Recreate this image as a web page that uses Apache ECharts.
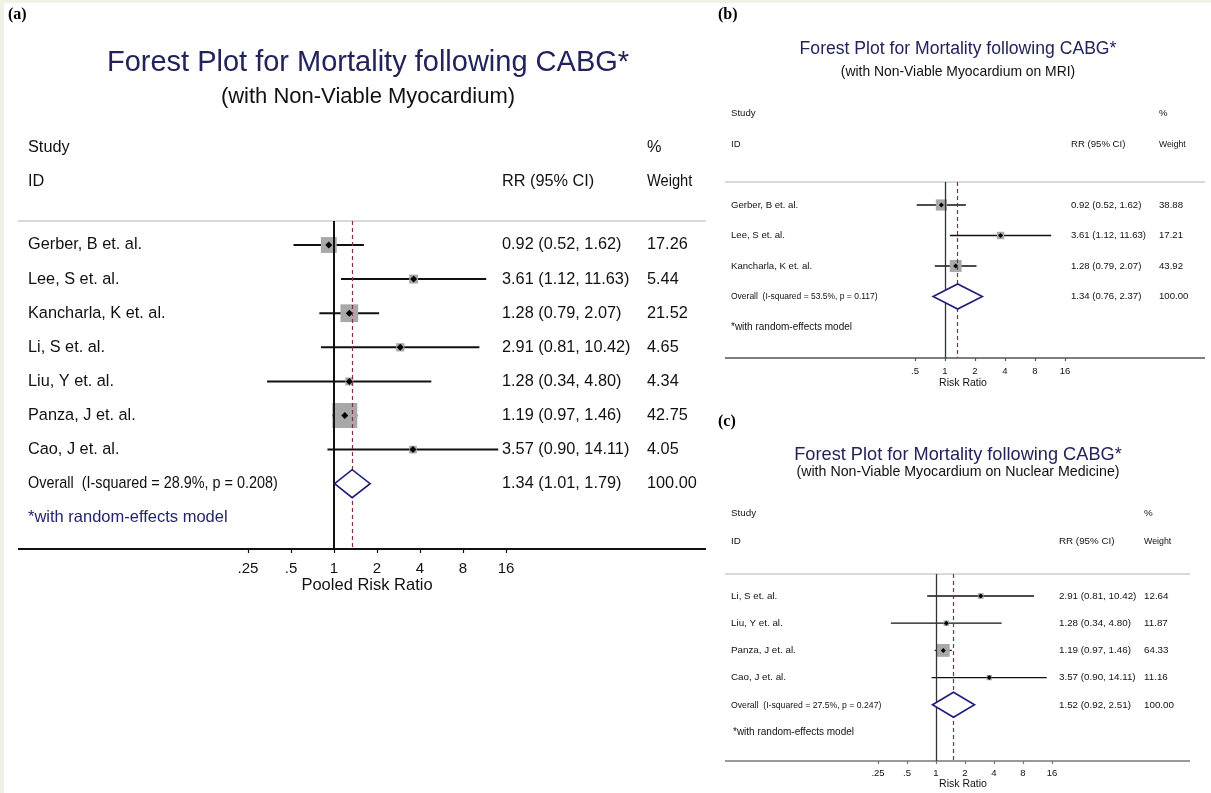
<!DOCTYPE html>
<html><head><meta charset="utf-8">
<script src="https://cdn.jsdelivr.net/npm/echarts@6/dist/echarts.min.js"></script>
<style>html,body{margin:0;padding:0;background:#fff;} #c{width:1211px;height:793px;}</style>
</head><body><div id="c"></div>
<script>
// ---------- DATA ----------
// Panel (a): all studies
const studiesA = ['Gerber, B et. al.', 'Lee, S et. al.', 'Kancharla, K et. al.', 'Li, S et. al.', 'Liu, Y et. al.', 'Panza, J et. al.', 'Cao, J et. al.'];
const rrA = [0.92, 3.61, 1.28, 2.91, 1.28, 1.19, 3.57];
const loA = [0.52, 1.12, 0.79, 0.81, 0.34, 0.97, 0.90];
const hiA = [1.62, 11.63, 2.07, 10.42, 4.80, 1.46, 14.11];
const weightA = [17.26, 5.44, 21.52, 4.65, 4.34, 42.75, 4.05];
const overallA = [1.34, 1.01, 1.79];
const overallLabelA = 'Overall  (I-squared = 28.9%, p = 0.208)';
const ticksA = [0.25, 0.5, 1, 2, 4, 8, 16];

// Panel (b): MRI
const studiesB = ['Gerber, B et. al.', 'Lee, S et. al.', 'Kancharla, K et. al.'];
const rrB = [0.92, 3.61, 1.28];
const loB = [0.52, 1.12, 0.79];
const hiB = [1.62, 11.63, 2.07];
const weightB = [38.88, 17.21, 43.92];
const overallB = [1.34, 0.76, 2.37];
const overallLabelB = 'Overall  (I-squared = 53.5%, p = 0.117)';
const ticksB = [0.5, 1, 2, 4, 8, 16];

// Panel (c): Nuclear Medicine
const studiesC = ['Li, S et. al.', 'Liu, Y et. al.', 'Panza, J et. al.', 'Cao, J et. al.'];
const rrC = [2.91, 1.28, 1.19, 3.57];
const loC = [0.81, 0.34, 0.97, 0.90];
const hiC = [10.42, 4.80, 1.46, 14.11];
const weightC = [12.64, 11.87, 64.33, 11.16];
const overallC = [1.52, 0.92, 2.51];
const overallLabelC = 'Overall  (I-squared = 27.5%, p = 0.247)';
const ticksC = [0.25, 0.5, 1, 2, 4, 8, 16];

const titleMain = 'Forest Plot for Mortality following CABG*';
const footnote = '*with random-effects model';

// ---------- LAYOUT ----------
const FONT = '"Liberation Sans", Arial, Helvetica, sans-serif';
const SERIF = '"Liberation Serif", "DejaVu Serif", serif';

const panels = [
  { tag:'(a)', sub:'(with Non-Viable Myocardium)', names:studiesA, rr:rrA, lo:loA, hi:hiA, w:weightA, overall:overallA, overallLabel:overallLabelA, ticks:ticksA, axisName:'Pooled Risk Ratio',
    L:{ oneX:334, dbl:43, lineL:18, lineR:706, top:221, bottom:549, row0:245, step:34.1,
        tagX:8, tagY:15, tagSize:16, titleX:368, titleY:63, titleSize:29, subY:97, subSize:22,
        colName:28, colCI:502, colW:647, hdr1:148, hdr2:182, font:16.3, footSize:16.5, footColor:'#24246e', footX:28,
        boxK:3.82, ptSize:7, diaH:14, ciW:2, nullW:2, nullColor:'#111', axisColor:'#111', axisW:1.8,
        tickFont:15, tickMargin:12, tickLen:4, axNameX:367, axNameY:585, axNameSize:16.5 } },
  { tag:'(b)', sub:'(with Non-Viable Myocardium on MRI)', names:studiesB, rr:rrB, lo:loB, hi:hiB, w:weightB, overall:overallB, overallLabel:overallLabelB, ticks:ticksB, axisName:'Risk Ratio',
    L:{ oneX:945, dbl:30, lineL:725, lineR:1205, top:182, bottom:358, row0:205, step:30.5,
        tagX:718, tagY:15, tagSize:16, titleX:958, titleY:49, titleSize:17.6, subY:72, subSize:13.9,
        colName:731, colCI:1071, colW:1159, hdr1:113, hdr2:144, font:9.6, footSize:10, footColor:'#111', footX:731,
        boxK:1.8, ptSize:5, diaH:12.5, ciW:1.3, nullW:1.3, nullColor:'#333', axisColor:'#555', axisW:1.5,
        tickFont:9.5, tickMargin:8, tickLen:3, axNameX:963, axNameY:383, axNameSize:10.5 } },
  { tag:'(c)', sub:'(with Non-Viable Myocardium on Nuclear Medicine)', names:studiesC, rr:rrC, lo:loC, hi:hiC, w:weightC, overall:overallC, overallLabel:overallLabelC, ticks:ticksC, axisName:'Risk Ratio',
    L:{ oneX:936, dbl:29, lineL:725, lineR:1190, top:574, bottom:761, row0:596, step:27.2,
        tagX:718, tagY:422, tagSize:16, titleX:958, titleY:455, titleSize:18.2, subY:472, subSize:14.2,
        colName:731, colCI:1059, colW:1144, hdr1:513, hdr2:541, font:9.8, footSize:10, footColor:'#111', footX:733,
        boxK:1.6, ptSize:5, diaH:12.5, ciW:1.3, nullW:1.3, nullColor:'#333', axisColor:'#777', axisW:1.5,
        tickFont:9.5, tickMargin:7, tickLen:3, axNameX:963, axNameY:784, axNameSize:10.5 } }
];
const overallScaleX = 0.885;

const fmtTick = v => v < 1 ? String(Math.round(v * 100) / 100).replace(/^0/, '') : String(Math.round(v));
const fmtCI = (r, l, h) => r.toFixed(2) + ' (' + l.toFixed(2) + ', ' + h.toFixed(2) + ')';

const chart = echarts.init(document.getElementById('c'), null, { renderer: 'canvas' });

const grids = [], xAxes = [], yAxes = [], series = [];
panels.forEach((P, p) => {
  const L = P.L;
  const tMin = P.ticks[0], tMax = P.ticks[P.ticks.length - 1];
  const gLeft = L.oneX + Math.log2(tMin) * L.dbl;
  const gRight = L.oneX + Math.log2(tMax) * L.dbl;
  grids.push({ left: gLeft, width: gRight - gLeft, top: L.top, height: L.bottom - L.top, containLabel: false });
  xAxes.push({
    gridIndex: p, type: 'log', logBase: 2, min: tMin, max: tMax, position: 'bottom',
    axisLine: { show: false, onZero: false },
    axisTick: { show: true, length: L.tickLen, lineStyle: { color: L.axisColor, width: 1.2 } },
    axisLabel: { show: true, formatter: fmtTick, fontFamily: FONT, fontSize: L.tickFont, color: '#111', margin: L.tickMargin, showMinLabel: true, showMaxLabel: true },
    splitLine: { show: false }, minorTick: { show: false }
  });
  yAxes.push({
    gridIndex: p, type: 'value', inverse: true,
    min: (L.top - L.row0) / L.step, max: (L.bottom - L.row0) / L.step,
    show: false, splitLine: { show: false }, axisLine: { onZero: false }
  });
  const n = P.names.length;
  // CI lines
  series.push({
    type: 'custom', xAxisIndex: p, yAxisIndex: p, z: 2, silent: true,
    data: P.names.map((_, i) => [P.lo[i], P.hi[i], i]),
    encode: { x: [0, 1], y: 2 },
    renderItem: (params, api) => {
      const a = api.coord([api.value(0), api.value(2)]);
      const b = api.coord([api.value(1), api.value(2)]);
      return { type: 'line', shape: { x1: a[0], y1: a[1], x2: b[0], y2: b[1] }, style: { stroke: '#111', lineWidth: L.ciW } };
    }
  });
  // weight boxes
  series.push({
    type: 'scatter', xAxisIndex: p, yAxisIndex: p, z: 3, silent: true,
    symbol: 'rect', symbolSize: v => L.boxK * Math.sqrt(v[2]),
    itemStyle: { color: '#a8a8a8', opacity: 1 },
    data: P.names.map((_, i) => [P.rr[i], i, P.w[i]])
  });
  // point estimates + reference lines
  series.push({
    type: 'scatter', xAxisIndex: p, yAxisIndex: p, z: 4, silent: true,
    symbol: 'diamond', symbolSize: L.ptSize,
    itemStyle: { color: '#000', opacity: 1 },
    data: P.names.map((_, i) => [P.rr[i], i]),
    markLine: {
      silent: true, symbol: ['none', 'none'], label: { show: false }, animation: false,
      data: [
        { xAxis: 1, lineStyle: { color: L.nullColor, width: L.nullW, type: 'solid' } },
        { xAxis: P.overall[0], lineStyle: { color: '#8b2b3b', width: 1.2, type: [4, 3] } }
      ]
    }
  });
  // overall diamond
  series.push({
    type: 'custom', xAxisIndex: p, yAxisIndex: p, z: 5, silent: true,
    data: [[P.overall[0], P.overall[1], P.overall[2], n]],
    encode: { x: [0, 1, 2], y: 3 },
    renderItem: (params, api) => {
      const c = api.coord([api.value(0), api.value(3)]);
      const l = api.coord([api.value(1), api.value(3)]);
      const r = api.coord([api.value(2), api.value(3)]);
      return { type: 'polygon', shape: { points: [[l[0], c[1]], [c[0], c[1] - L.diaH], [r[0], c[1]], [c[0], c[1] + L.diaH]] },
        style: { fill: '#fff', stroke: '#1d1d7a', lineWidth: 1.6 } };
    }
  });
});

chart.setOption({
  backgroundColor: '#ffffff',
  animation: false,
  grid: grids, xAxis: xAxes, yAxis: yAxes, series: series
});

// ---------- TEXT & DECORATION ----------
const g = [];
g.push({ type: 'rect', shape: { x: 0, y: 0, width: 1211, height: 3 }, style: { fill: '#f1f1e6' }, silent: true });
g.push({ type: 'rect', shape: { x: 0, y: 0, width: 4, height: 793 }, style: { fill: '#f1f1e6' }, silent: true });
const txt = (text, x, y, size, opts = {}) => g.push({
  type: 'text', x: x, y: y, silent: true, scaleX: opts.scaleX || 1,
  style: { text: text, font: (opts.weight || 'normal') + ' ' + size + 'px ' + (opts.family || FONT), fill: opts.color || '#111',
    align: opts.align || 'left', verticalAlign: 'middle' }
});
panels.forEach((P, p) => {
  const L = P.L;
  const rowY = i => chart.convertToPixel({ xAxisIndex: p, yAxisIndex: p }, [1, i])[1];
  txt(P.tag, L.tagX, L.tagY, L.tagSize, { family: SERIF, weight: 'bold', color: '#000' });
  txt(titleMain, L.titleX, L.titleY, L.titleSize, { align: 'center', color: '#23235c' });
  txt(P.sub, L.titleX, L.subY, L.subSize, { align: 'center', color: '#111' });
  txt('Study', L.colName, L.hdr1, L.font);
  txt('%', L.colW, L.hdr1, L.font);
  txt('ID', L.colName, L.hdr2, L.font);
  txt('RR (95% CI)', L.colCI, L.hdr2, L.font);
  txt('Weight', L.colW, L.hdr2, L.font, { scaleX: 0.9 });
  // separator and axis lines across the panel
  g.push({ type: 'line', silent: true, shape: { x1: L.lineL, y1: L.top, x2: L.lineR, y2: L.top }, style: { stroke: '#cccccc', lineWidth: 1.5 } });
  g.push({ type: 'line', silent: true, shape: { x1: L.lineL, y1: L.bottom, x2: L.lineR, y2: L.bottom }, style: { stroke: L.axisColor, lineWidth: L.axisW } });
  P.names.forEach((nm, i) => {
    const y = rowY(i);
    txt(nm, L.colName, y, L.font);
    txt(fmtCI(P.rr[i], P.lo[i], P.hi[i]), L.colCI, y, L.font);
    txt(P.w[i].toFixed(2), L.colW, y, L.font);
  });
  const n = P.names.length;
  const yo = rowY(n);
  txt(P.overallLabel, L.colName, yo, L.font, { scaleX: overallScaleX });
  txt(fmtCI(P.overall[0], P.overall[1], P.overall[2]), L.colCI, yo, L.font);
  txt((100).toFixed(2), L.colW, yo, L.font);
  txt(footnote, L.footX, rowY(n + 1), L.footSize, { color: L.footColor });
  txt(P.axisName, L.axNameX, L.axNameY, L.axNameSize, { align: 'center' });
});
chart.setOption({ graphic: { elements: g } });
</script>
</body></html>
